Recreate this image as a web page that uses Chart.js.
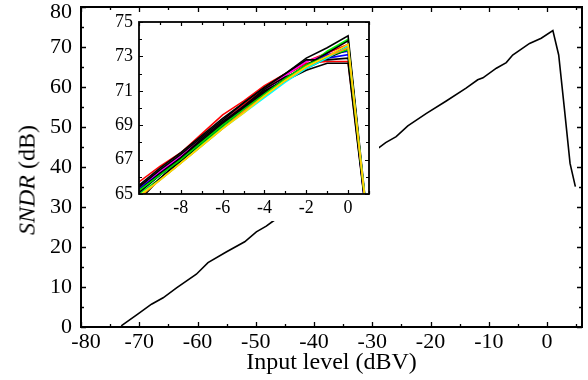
<!DOCTYPE html>
<html>
<head>
<meta charset="utf-8">
<script src="https://cdn.jsdelivr.net/npm/chart.js@4.4.1/dist/chart.umd.min.js"></script>
<style>
  body { margin: 0; background: #fff; }
  #wrap { position: relative; width: 588px; height: 380px; }
  #mainChart { position: absolute; left: 0; top: 0; }
  #insetChart { position: absolute; left: 100px; top: 12px; background: #fff; }
  #yTitle {
    position: absolute; left: 27px; top: 180px;
    transform: translate(-50%, -50%) rotate(-90deg);
    font: 24px "Liberation Serif", "Times New Roman", serif;
    white-space: nowrap; color: #000;
  }
</style>
</head>
<body>
<div id="wrap">
  <canvas id="mainChart" width="588" height="380"></canvas>
  <canvas id="insetChart" width="279" height="209"></canvas>
  <div id="yTitle"><i>SNDR</i> (dB)</div>
</div>
<script>
// Main curve
const mainX = [-73.1, -70.2, -67.9, -65.9, -63.6, -60.2, -58.2, -55.0, -51.9, -49.9, -48.2, -47.0,
    -28.9, -27.7, -25.9, -23.9, -20.7, -17.3, -13.9, -11.9, -11.0, -8.7, -7.0, -5.9, -3.0, -1.0,
    1.0, 2.0, 3.0, 3.95, 4.86];
const mainY = [0.3, 3.3, 5.7, 7.3, 9.8, 13.2, 16.1, 18.8, 21.3, 23.8, 25.2, 26.5,
    44.8, 46.1, 47.6, 50.3, 53.4, 56.5, 59.7, 61.8, 62.3, 64.7, 66.1, 68.0, 70.9, 72.2,
    74.1, 68.0, 54.3, 40.9, 35.1];

// Inset: many runs near full scale
const insetX = [-10, -9, -8, -7, -6, -5, -4, -3, -2, -1, 0, 1];
const black1 = [65.4, 66.4, 67.3, 68.3, 69.3, 70.3, 71.2, 72.0, 72.9, 73.5, 74.2, 62.6];
const black2 = [64.8, 65.9, 66.9, 68.0, 69.0, 70.0, 70.9, 71.7, 72.5, 73.2, 73.9, 62.5];
const black3 = [65.2, 66.2, 67.1, 68.1, 69.1, 70.1, 71.0, 71.6, 72.2, 72.6, 72.6, 62.4];
const black4 = [65.5, 66.5, 67.4, 68.4, 69.4, 70.3, 71.2, 72.0, 72.8, 72.8, 72.9, 62.6];
const black5 = [64.6, 65.9, 67.0, 68.0, 69.0, 69.9, 70.8, 71.6, 72.4, 73.0, 73.6, 62.5];
const black6 = [65.1, 66.1, 67.1, 68.2, 69.2, 70.1, 71.1, 71.8, 72.3, 72.9, 73.4, 62.5];
const red1 = [65.7, 66.6, 67.4, 68.5, 69.6, 70.4, 71.3, 72.0, 72.7, 73.2, 73.7, 62.6];
const red2 = [65.4, 66.3, 67.2, 68.2, 69.2, 70.2, 71.1, 71.9, 72.6, 72.7, 72.7, 62.5];
const blue1 = [65.3, 66.2, 67.1, 68.1, 69.1, 70.0, 70.9, 71.7, 72.5, 72.9, 73.1, 62.3];
const blue2 = [65.1, 66.1, 67.0, 68.0, 69.0, 69.9, 70.8, 71.6, 72.4, 73.1, 73.3, 62.3];
const green1 = [65.0, 65.9, 66.9, 67.9, 68.9, 69.8, 70.7, 71.6, 72.4, 73.3, 74.0, 62.5];
const green2 = [65.2, 66.1, 67.0, 68.0, 69.0, 69.9, 70.8, 71.7, 72.5, 73.0, 73.4, 62.5];
const cyan1 = [64.9, 65.8, 66.8, 67.8, 68.8, 69.7, 70.6, 71.5, 72.3, 72.9, 73.6, 62.7];
const magenta1 = [65.3, 66.3, 67.2, 68.2, 69.2, 70.1, 71.0, 71.9, 72.7, 73.1, 73.5, 62.5];
const yellow1 = [64.9, 65.8, 66.8, 67.8, 68.8, 69.7, 70.7, 71.6, 72.4, 73.0, 73.7, 62.6];
const orange1 = [64.8, 65.8, 66.8, 67.8, 68.8, 69.8, 70.7, 71.6, 72.4, 73.0, 73.5, 62.5];

const serif = '"Liberation Serif", "Times New Roman", serif';

// Frame with inward ticks on all four sides
const frameTicks = {
    id: 'frameTicks',
    afterDraw(chart, args, opts) {
        const { ctx, chartArea: a, scales: { x, y } } = chart;
        const isMajor = (scale, v) => scale.ticks.some(t => Math.abs(t.value - v) < 1e-6);
        ctx.save();
        ctx.strokeStyle = '#000';
        ctx.lineWidth = opts.lineWidth;
        ctx.beginPath();
        for (let v = x.min; v <= x.max + 1e-9; v += opts.xMinor) {
            const px = Math.round(x.getPixelForValue(v)) + 0.5;
            const len = isMajor(x, v) ? opts.major : opts.minor;
            ctx.moveTo(px, a.bottom); ctx.lineTo(px, a.bottom - len);
            ctx.moveTo(px, a.top); ctx.lineTo(px, a.top + len);
        }
        for (let v = y.min; v <= y.max + 1e-9; v += opts.yMinor) {
            const py = Math.round(y.getPixelForValue(v)) + 0.5;
            const len = isMajor(y, v) ? opts.major : opts.minor;
            ctx.moveTo(a.left, py); ctx.lineTo(a.left + len, py);
            ctx.moveTo(a.right, py); ctx.lineTo(a.right - len, py);
        }
        ctx.stroke();
        ctx.lineWidth = opts.frameWidth;
        ctx.strokeRect(a.left, a.top, a.right - a.left, a.bottom - a.top);
        ctx.restore();
    }
};

// Nudge the corner labels inwards, as in the original plot
const cornerLabels = {
    id: 'cornerLabels',
    beforeDraw(chart) {
        const { x, y } = chart.scales;
        const xi = x.getLabelItems(chart.chartArea);
        if (xi.length) xi[0].options.translation[0] += 5;
        const yi = y.getLabelItems(chart.chartArea);
        if (yi.length) yi[yi.length - 1].options.translation[1] += 5;
    }
};

// keep the plot box where the layout padding puts it
function fixWidth(w) {
    return scale => { scale.width = w; scale.paddingTop = 0; scale.paddingBottom = 0; };
}
function fixHeight(h) {
    return scale => { scale.height = h; scale.paddingLeft = 0; scale.paddingRight = 0; };
}

// Main chart
new Chart(document.getElementById('mainChart'), {
    type: 'line',
    data: {
        datasets: [{
            data: mainX.map((v, i) => ({ x: v, y: mainY[i] })),
            borderColor: '#000',
            borderWidth: 1.6,
            pointRadius: 0,
            tension: 0
        }]
    },
    options: {
        responsive: false,
        animation: false,
        devicePixelRatio: 1,
        layout: { padding: { left: 0, top: 7, right: 6, bottom: 0 } },
        plugins: {
            legend: { display: false },
            tooltip: { enabled: false },
            frameTicks: { lineWidth: 1.3, frameWidth: 2, major: 5, minor: 3, xMinor: 5, yMinor: 5 }
        },
        scales: {
            x: {
                type: 'linear',
                min: -80,
                max: 6,
                grid: { display: false, drawTicks: false },
                border: { display: false },
                ticks: { stepSize: 10, includeBounds: false, padding: 2, color: '#000', font: { family: serif, size: 22 } },
                title: { display: true, text: 'Input level (dBV)', color: '#000', font: { family: serif, size: 24 }, padding: { top: 0, bottom: 3 } },
                afterFit: fixHeight(53)
            },
            y: {
                min: 0,
                max: 80,
                grid: { display: false, drawTicks: false },
                border: { display: false },
                ticks: { stepSize: 10, padding: 9, color: '#000', font: { family: serif, size: 22 } },
                afterFit: fixWidth(81)
            }
        }
    },
    plugins: [frameTicks, cornerLabels]
});

// Inset chart
const insetSeries = [
    [yellow1, '#ffd800'], [orange1, '#ff9900'], [cyan1, '#00ffff'], [green2, '#00dd00'],
    [black1, '#000000'], [black2, '#000000'], [black3, '#000000'], [black4, '#000000'],
    [black5, '#000000'], [black6, '#000000'],
    [blue2, '#0000ff'], [blue1, '#0000ff'], [magenta1, '#ff00ff'], [green1, '#00ff00'],
    [red2, '#ff0000'], [red1, '#ff0000']
];

new Chart(document.getElementById('insetChart'), {
    type: 'line',
    data: {
        datasets: insetSeries.map(([vals, color]) => ({
            data: insetX.map((v, i) => ({ x: v, y: vals[i] })),
            borderColor: color,
            borderWidth: 1.6,
            pointRadius: 0,
            tension: 0,
            clip: 0
        }))
    },
    options: {
        responsive: false,
        animation: false,
        devicePixelRatio: 1,
        layout: { padding: { left: 0, top: 10, right: 10, bottom: 0 } },
        plugins: {
            legend: { display: false },
            tooltip: { enabled: false },
            frameTicks: { lineWidth: 1.2, frameWidth: 1.8, major: 4, minor: 3, xMinor: 1, yMinor: 1 }
        },
        scales: {
            x: {
                type: 'linear',
                min: -10,
                max: 1,
                grid: { display: false, drawTicks: false },
                border: { display: false },
                ticks: {
                    stepSize: 2, includeBounds: false, padding: 3, color: '#000',
                    font: { family: serif, size: 18 },
                    callback: v => (v === -10 ? '' : v)
                },
                afterFit: fixHeight(27)
            },
            y: {
                min: 65,
                max: 75,
                grid: { display: false, drawTicks: false },
                border: { display: false },
                ticks: { stepSize: 2, padding: 6, color: '#000', font: { family: serif, size: 18 } },
                afterFit: fixWidth(39)
            }
        }
    },
    plugins: [frameTicks]
});
</script>
</body>
</html>
